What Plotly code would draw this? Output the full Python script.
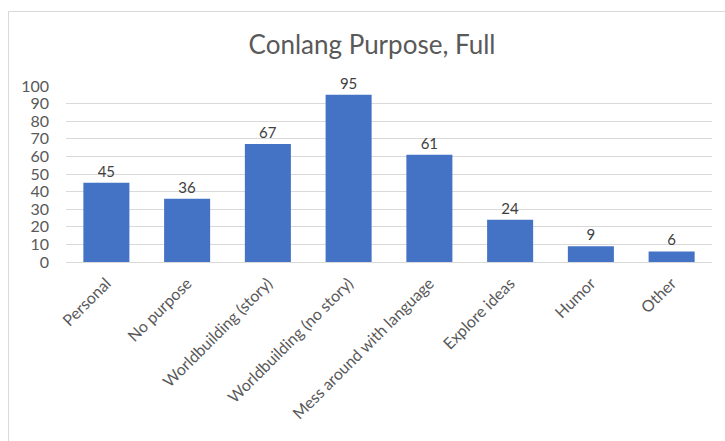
import plotly.graph_objects as go

categories = ["Personal", "No purpose", "Worldbuilding (story)", "Worldbuilding (no story)",
              "Mess around with language", "Explore ideas", "Humor", "Other"]
values = [45, 36, 67, 95, 61, 24, 9, 6]
y_ticks = [0, 10, 20, 30, 40, 50, 60, 70, 80, 90, 100]

FONT = "Lato, Carlito, 'Open Sans', sans-serif"

fig = go.Figure(go.Bar(
    x=categories, y=values,
    marker=dict(color="#4472C4", line=dict(width=0)),
    text=[str(v) for v in values], textposition="outside",
    textfont=dict(family=FONT, size=15, color="#404040"),
    cliponaxis=False, width=0.57,
))

W, H = 725, 441
l, r, t, b = 66, 13, 86, 179
pw, ph = W - l - r, H - t - b

def px_to_paper_x(px):
    return (px - l) / pw

def px_to_paper_y(py):
    return (H - b - py) / ph

fig.update_layout(
    width=W, height=H,
    margin=dict(l=l, r=r, t=t, b=b),
    paper_bgcolor="white", plot_bgcolor="white",
    showlegend=False,
    title=dict(text="Conlang Purpose, Full", x=(372) / W, xanchor="center",
               y=1 - 45 / H, yanchor="middle",
               font=dict(family=FONT, size=26, color="#595959")),
    xaxis=dict(tickangle=-45, tickfont=dict(family=FONT, size=16, color="#595959"),
               showline=False, ticks="", showgrid=False, ticklabelstandoff=8),
    yaxis=dict(range=[0, 100], tickvals=y_ticks, showgrid=True, gridcolor="#d9d9d9",
               gridwidth=1, zeroline=True, zerolinecolor="#d9d9d9", zerolinewidth=1,
               tickfont=dict(family=FONT, size=16, color="#595959"),
               ticks="", showline=False, ticklabelstandoff=16),
    shapes=[dict(type="rect", xref="paper", yref="paper",
                 x0=px_to_paper_x(8.5), x1=px_to_paper_x(740),
                 y0=px_to_paper_y(460), y1=px_to_paper_y(11.5),
                 line=dict(color="#d9d9d9", width=1), fillcolor="rgba(0,0,0,0)",
                 layer="below")],
)

fig.write_html("out.html")
